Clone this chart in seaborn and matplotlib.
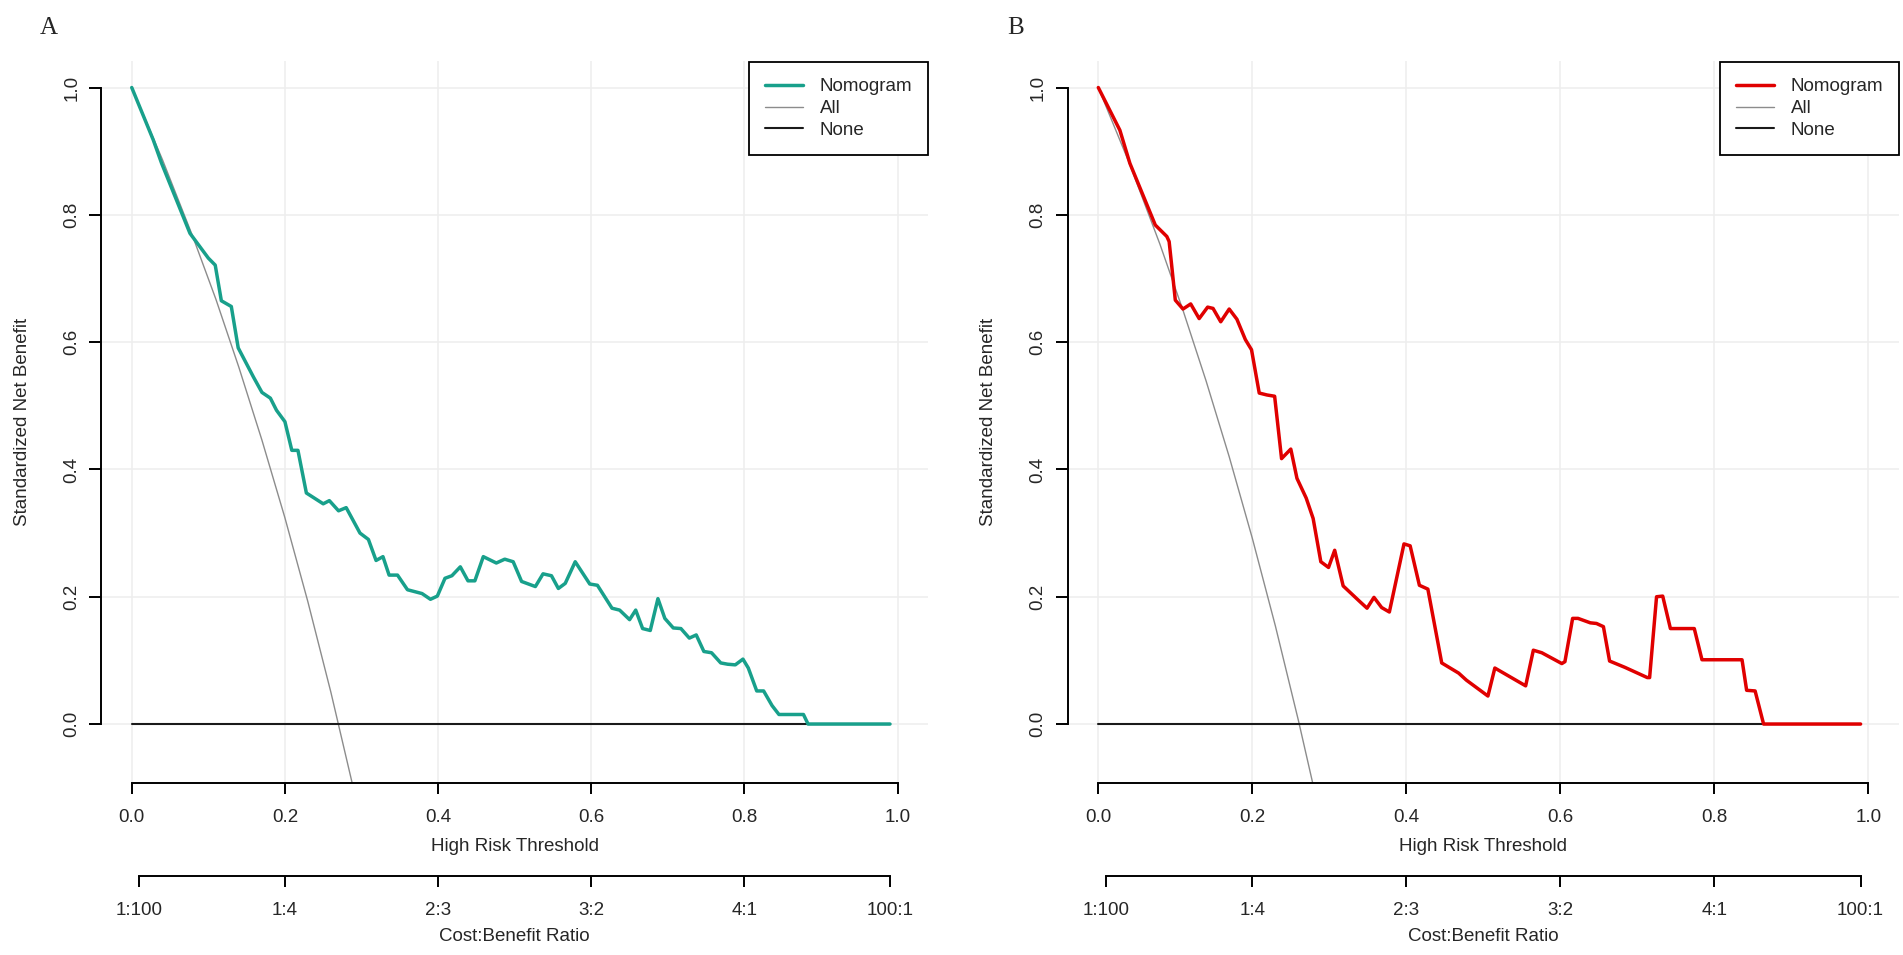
import matplotlib
matplotlib.use("Agg")
import matplotlib.pyplot as plt
import seaborn as sns
from matplotlib.ticker import FormatStrFormatter

# panel A: nomogram curve
a_thresh = [0.0, 0.028, 0.039, 0.076, 0.10, 0.109, 0.117, 0.13, 0.139, 0.159,
            0.17, 0.181, 0.189, 0.20, 0.209, 0.217, 0.228, 0.25, 0.258, 0.27,
            0.28, 0.298, 0.309, 0.319, 0.328, 0.336, 0.347, 0.36, 0.379, 0.39,
            0.399, 0.409, 0.418, 0.429, 0.439, 0.448, 0.459, 0.476, 0.487, 0.498,
            0.509, 0.527, 0.537, 0.548, 0.557, 0.566, 0.579, 0.598, 0.608, 0.627,
            0.637, 0.65, 0.658, 0.667, 0.677, 0.687, 0.696, 0.707, 0.717, 0.728,
            0.737, 0.747, 0.757, 0.769, 0.778, 0.788, 0.798, 0.805, 0.816, 0.825,
            0.836, 0.845, 0.877, 0.883, 0.99]
a_nomogram = [1.0, 0.918, 0.881, 0.771, 0.732, 0.721, 0.665, 0.656, 0.591, 0.545,
              0.521, 0.512, 0.493, 0.475, 0.430, 0.430, 0.363, 0.346, 0.351, 0.335,
              0.340, 0.300, 0.290, 0.257, 0.263, 0.234, 0.234, 0.211, 0.205, 0.196,
              0.201, 0.229, 0.233, 0.247, 0.225, 0.225, 0.263, 0.253, 0.259, 0.255,
              0.224, 0.216, 0.236, 0.233, 0.213, 0.221, 0.255, 0.220, 0.218, 0.182,
              0.179, 0.164, 0.179, 0.150, 0.147, 0.197, 0.166, 0.151, 0.150, 0.135,
              0.140, 0.114, 0.112, 0.096, 0.094, 0.093, 0.102, 0.088, 0.052, 0.052,
              0.029, 0.015, 0.015, 0.0, 0.0]
a_all_thresh = [0.0, 0.04, 0.08, 0.11, 0.14, 0.17, 0.20, 0.23, 0.26, 0.29]
a_all = [1.0, 0.887, 0.765, 0.667, 0.560, 0.446, 0.324, 0.192, 0.050, -0.104]

# panel B: nomogram curve
b_thresh = [0.0, 0.028, 0.041, 0.074, 0.089, 0.092, 0.095, 0.100, 0.110, 0.120,
            0.131, 0.142, 0.149, 0.159, 0.170, 0.180, 0.191, 0.199, 0.209, 0.219,
            0.229, 0.238, 0.250, 0.258, 0.270, 0.279, 0.289, 0.299, 0.307, 0.318,
            0.340, 0.349, 0.358, 0.368, 0.378, 0.397, 0.405, 0.417, 0.428, 0.446,
            0.468, 0.478, 0.506, 0.515, 0.555, 0.565, 0.576, 0.602, 0.606, 0.616,
            0.623, 0.639, 0.647, 0.656, 0.664, 0.684, 0.713, 0.716, 0.725, 0.733,
            0.743, 0.774, 0.784, 0.836, 0.842, 0.853, 0.864, 0.99]
b_nomogram = [1.0, 0.933, 0.881, 0.784, 0.766, 0.758, 0.724, 0.666, 0.652, 0.660,
              0.637, 0.655, 0.653, 0.632, 0.652, 0.636, 0.604, 0.588, 0.520, 0.517,
              0.515, 0.417, 0.432, 0.386, 0.355, 0.323, 0.255, 0.246, 0.273, 0.217,
              0.192, 0.182, 0.199, 0.183, 0.176, 0.283, 0.280, 0.218, 0.212, 0.096,
              0.080, 0.069, 0.044, 0.088, 0.060, 0.116, 0.112, 0.095, 0.098, 0.166,
              0.166, 0.159, 0.158, 0.153, 0.099, 0.089, 0.073, 0.073, 0.200, 0.201,
              0.150, 0.150, 0.101, 0.101, 0.053, 0.052, 0.0, 0.0]
b_all_thresh = [0.0, 0.04, 0.08, 0.11, 0.14, 0.17, 0.20, 0.23, 0.26, 0.28]
b_all = [1.0, 0.882, 0.754, 0.650, 0.539, 0.420, 0.292, 0.154, 0.005, -0.101]

none_thresh = [0.0, 0.99]
none_benefit = [0.0, 0.0]

axis_ticks = [0.0, 0.2, 0.4, 0.6, 0.8, 1.0]
cb_ticks = [0.0099, 0.2, 0.4, 0.6, 0.8, 0.99]
cb_labels = ["1:100", "1:4", "2:3", "3:2", "4:1", "100:1"]

sns.set_style("white")
plt.rcParams['font.family'] = ['Liberation Sans', 'DejaVu Sans']
plt.rcParams['font.size'] = 13

W, H = 1903, 955
fig = plt.figure(figsize=(W / 100, H / 100), dpi=100)


def draw_panel(rect, thresh, nomogram, all_thresh, all_benefit, color, letter):
    ax = fig.add_axes(rect)
    ax.set_xlim(-0.04, 1.04)
    ax.set_ylim(-0.092, 1.042)
    ax.set_axisbelow(True)
    ax.set_xticks(axis_ticks)
    ax.set_yticks(axis_ticks)
    ax.grid(True, color="#EEEEEE", lw=1.1)

    sns.lineplot(x=all_thresh, y=all_benefit, ax=ax, color="#8C8C8C", lw=1.0,
                 label="All", sort=False, estimator=None)
    sns.lineplot(x=none_thresh, y=none_benefit, ax=ax, color="#1A1A1A", lw=1.5,
                 label="None", sort=False, estimator=None)
    sns.lineplot(x=thresh, y=nomogram, ax=ax, color=color, lw=2.5,
                 label="Nomogram", sort=False, estimator=None)

    handles, labels = ax.get_legend_handles_labels()
    order = [labels.index(n) for n in ["Nomogram", "All", "None"]]
    leg = ax.legend([handles[i] for i in order], [labels[i] for i in order],
                    loc="upper right", bbox_to_anchor=(1.0, 0.998),
                    borderaxespad=0.0, fancybox=False, framealpha=1,
                    edgecolor="black", fontsize=13.5, handlelength=2.0,
                    handletextpad=0.9, labelspacing=0.25, borderpad=0.85)
    leg.get_frame().set_linewidth(1.3)

    for side in ["top", "right"]:
        ax.spines[side].set_visible(False)
    for side in ["left", "bottom"]:
        ax.spines[side].set_color("black")
        ax.spines[side].set_linewidth(1.4)
        ax.spines[side].set_bounds(0, 1)

    ax.xaxis.set_major_formatter(FormatStrFormatter('%.1f'))
    ax.yaxis.set_major_formatter(FormatStrFormatter('%.1f'))
    ax.tick_params(axis="x", direction="out", length=8, width=1.4, color="black",
                   pad=11, labelsize=13.5, bottom=True)
    ax.tick_params(axis="y", direction="out", length=9, width=1.4, color="black",
                   pad=6, labelsize=13.5, left=True)
    plt.setp(ax.get_yticklabels(), rotation=90, va="center")
    ax.set_xlabel("")
    ax.set_ylabel("")

    # cost:benefit axis under the threshold axis
    sec = ax.secondary_xaxis(-93.4 / 721.8)
    sec.set_xticks(cb_ticks, cb_labels)
    sec.spines["bottom"].set_bounds(cb_ticks[0], cb_ticks[-1])
    sec.spines["bottom"].set_linewidth(1.4)
    sec.spines["bottom"].set_color("black")
    sec.tick_params(axis="x", direction="out", length=8, width=1.4, color="black",
                    pad=11, labelsize=13.5)

    ax.text(0.5, -63.5 / 721.8, "High Risk Threshold", transform=ax.transAxes,
            ha="center", va="center", fontsize=13.5)
    ax.text(0.5, -153.5 / 721.8, "Cost:Benefit Ratio", transform=ax.transAxes,
            ha="center", va="center", fontsize=13.5)
    ax.text(-0.095, 0.5, "Standardized Net Benefit", transform=ax.transAxes,
            ha="center", va="center", rotation=90, fontsize=13.5)
    ax.text(-52 / 827.0, 1 + 33 / 721.8, letter, transform=ax.transAxes,
            ha="center", va="center", fontsize=18,
            family=["Liberation Serif", "DejaVu Serif"])
    return ax


draw_panel([101.1 / W, 1 - 782.6 / H, 827.2 / W, 721.8 / H],
           a_thresh, a_nomogram, a_all_thresh, a_all, "#18A08B", "A")
draw_panel([1067.5 / W, 1 - 782.6 / H, 831.6 / W, 721.8 / H],
           b_thresh, b_nomogram, b_all_thresh, b_all, "#E00000", "B")

fig.savefig("out.png", dpi=100, facecolor="white")
